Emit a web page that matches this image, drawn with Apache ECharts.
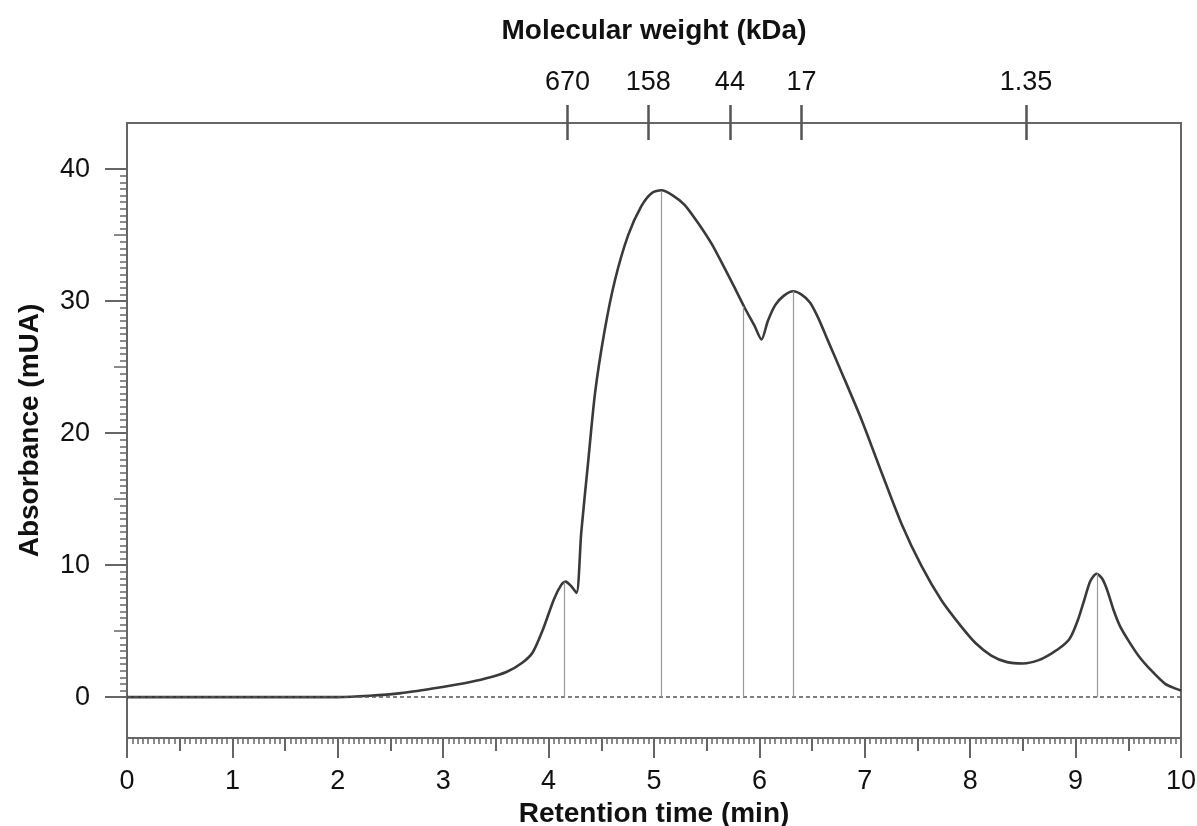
<!DOCTYPE html>
<html>
<head>
<meta charset="utf-8">
<script src="https://cdn.jsdelivr.net/npm/echarts@6/dist/echarts.min.js"></script>
<style>
    html, body { margin: 0; padding: 0; background: #fff; }
    #chart { width: 1197px; height: 826px; }
</style>
</head>
<body>
<div id="chart"></div>
<script>
// retention time (min) / absorbance (mUA)
var times = [0, 0.5, 1.0, 1.5, 2.0, 2.3, 2.6, 2.9, 3.2, 3.4, 3.6, 3.75, 3.85, 3.95, 4.05, 4.12, 4.16, 4.21, 4.265,
    4.31, 4.375, 4.44, 4.53, 4.63, 4.755, 4.88, 4.98, 5.07, 5.18, 5.29, 5.42, 5.55, 5.65, 5.76, 5.86, 5.95, 6.02,
    6.08, 6.15, 6.23, 6.32, 6.40, 6.48, 6.56, 6.64, 6.78, 6.97, 7.16, 7.35, 7.54, 7.73, 7.91, 8.05, 8.2, 8.35, 8.5,
    8.65, 8.77, 8.88, 8.95, 9.02, 9.08, 9.14, 9.2, 9.25, 9.3, 9.36, 9.42, 9.5, 9.6, 9.72, 9.85, 9.93, 10.0];
var absorbance = [0, 0, 0, 0, 0, 0.1, 0.3, 0.65, 1.05, 1.4, 1.9, 2.6, 3.4, 5.2, 7.4, 8.5, 8.75, 8.45, 7.9,
    12.5, 17.8, 23, 27.7, 31.6, 35, 37.2, 38.2, 38.4, 38.0, 37.3, 35.9, 34.3, 32.8, 31.1, 29.5, 28.2, 27.1,
    28.5, 29.7, 30.4, 30.75, 30.5, 29.9, 28.7, 27.2, 24.6, 21.0, 17.0, 13.1, 9.9, 7.3, 5.4, 4.1, 3.15, 2.65, 2.55,
    2.8, 3.3, 3.9, 4.5, 5.8, 7.3, 8.8, 9.35, 9.0, 8.1, 6.6, 5.4, 4.3, 3.1, 2.0, 1.0, 0.7, 0.5];

// peak marker lines
var peakTimes = [4.15, 5.07, 5.85, 6.32, 9.21];
var peakHeights = [8.7, 38.35, 29.6, 30.75, 9.35];

// molecular weight standards on the top axis
var mwTimes = [4.18, 4.945, 5.72, 6.40, 8.53];
var mwLabels = ["670", "158", "44", "17", "1.35"];

var yTicks = [0, 10, 20, 30, 40];

var Y_MIN = -3.1;
var Y_MAX = 43.5;

var axisColor = "#666";
var font = "Liberation Sans, Arial, sans-serif";

// minor / mid tick positions
var yMinor = [];
for (var i = 0; i <= 80; i++) yMinor.push(i * 0.5);
var yMid = [5, 15, 25, 35];

var chart = echarts.init(document.getElementById("chart"));

var curve = times.map(function(t, i) { return [t, absorbance[i]]; });

var markData = [
    {
        yAxis: 0,
        lineStyle: { type: [4, 3], color: "#555", width: 1.6 }
    }
];
peakTimes.forEach(function(t, i) {
    markData.push([
        { coord: [t, 0], lineStyle: { type: "solid", color: "#9a9a9a", width: 1.2 } },
        { coord: [t, peakHeights[i]] }
    ]);
});

var labelStyle = { fontSize: 27, color: "#111", fontFamily: font };
var nameStyle = { fontSize: 28, fontWeight: "bold", color: "#111", fontFamily: font };

chart.setOption({
    animation: false,
    grid: {
        left: 127,
        right: 16,
        top: 123,
        bottom: 88,
        outerBoundsMode: "none",
        show: true,
        borderColor: axisColor,
        borderWidth: 2
    },
    xAxis: [
        {
            type: "value",
            position: "bottom",
            min: 0,
            max: 10,
            interval: 1,
            axisLine: { onZero: false, lineStyle: { color: axisColor, width: 2 } },
            axisTick: { show: true, length: 20, lineStyle: { color: axisColor, width: 2 } },
            minorTick: { show: true, splitNumber: 20, length: 6, lineStyle: { color: axisColor, width: 1.5 } },
            axisLabel: Object.assign({ margin: 30 }, labelStyle),
            splitLine: { show: false },
            name: "Retention time (min)",
            nameLocation: "middle",
            nameGap: 57,
            nameTextStyle: nameStyle
        },
        {
            type: "value",
            position: "bottom",
            min: 0,
            max: 10,
            interval: 0.5,
            axisLine: { show: false, onZero: false },
            axisTick: { show: true, length: 13, lineStyle: { color: axisColor, width: 2 } },
            axisLabel: { show: false },
            splitLine: { show: false }
        },
        {
            type: "value",
            position: "top",
            min: 0,
            max: 10,
            axisLine: { show: true, onZero: false, lineStyle: { color: axisColor, width: 2 } },
            axisTick: { show: true, length: 18, customValues: mwTimes, lineStyle: { color: "#555", width: 2.5 } },
            axisLabel: Object.assign({
                customValues: mwTimes,
                margin: 27,
                formatter: function(v) {
                    return mwLabels[mwTimes.indexOf(v)];
                }
            }, labelStyle),
            splitLine: { show: false },
            name: "Molecular weight (kDa)",
            nameLocation: "middle",
            nameGap: 78,
            nameTextStyle: nameStyle
        },
        {
            type: "value",
            position: "top",
            min: 0,
            max: 10,
            axisLine: { show: false, onZero: false },
            axisTick: { show: true, inside: true, length: 17, customValues: mwTimes, lineStyle: { color: "#555", width: 2.5 } },
            axisLabel: { show: false },
            splitLine: { show: false }
        }
    ],
    yAxis: [
        {
            type: "value",
            position: "left",
            min: Y_MIN,
            max: Y_MAX,
            axisLine: { show: true, onZero: false, lineStyle: { color: axisColor, width: 2 } },
            axisTick: { show: true, length: 22, customValues: yTicks, lineStyle: { color: axisColor, width: 2 } },
            axisLabel: Object.assign({ customValues: yTicks, margin: 37 }, labelStyle),
            splitLine: { show: false },
            name: "Absorbance (mUA)",
            nameLocation: "middle",
            nameGap: 83,
            nameTextStyle: nameStyle
        },
        {
            type: "value",
            position: "left",
            offset: 0,
            min: Y_MIN,
            max: Y_MAX,
            axisLine: { show: false, onZero: false },
            axisTick: { show: true, length: 7, customValues: yMinor, lineStyle: { color: axisColor, width: 1.5 } },
            axisLabel: { show: false },
            splitLine: { show: false }
        },
        {
            type: "value",
            position: "left",
            offset: 0,
            min: Y_MIN,
            max: Y_MAX,
            axisLine: { show: false, onZero: false },
            axisTick: { show: true, length: 13, customValues: yMid, lineStyle: { color: axisColor, width: 1.5 } },
            axisLabel: { show: false },
            splitLine: { show: false }
        }
    ],
    series: [
        {
            name: "Absorbance",
            type: "line",
            data: curve,
            smooth: 0.25,
            showSymbol: false,
            lineStyle: { color: "#3a3a3a", width: 2.6 },
            markLine: {
                silent: true,
                symbol: "none",
                label: { show: false },
                data: markData
            },
            z: 3
        }
    ]
});
</script>
</body>
</html>
